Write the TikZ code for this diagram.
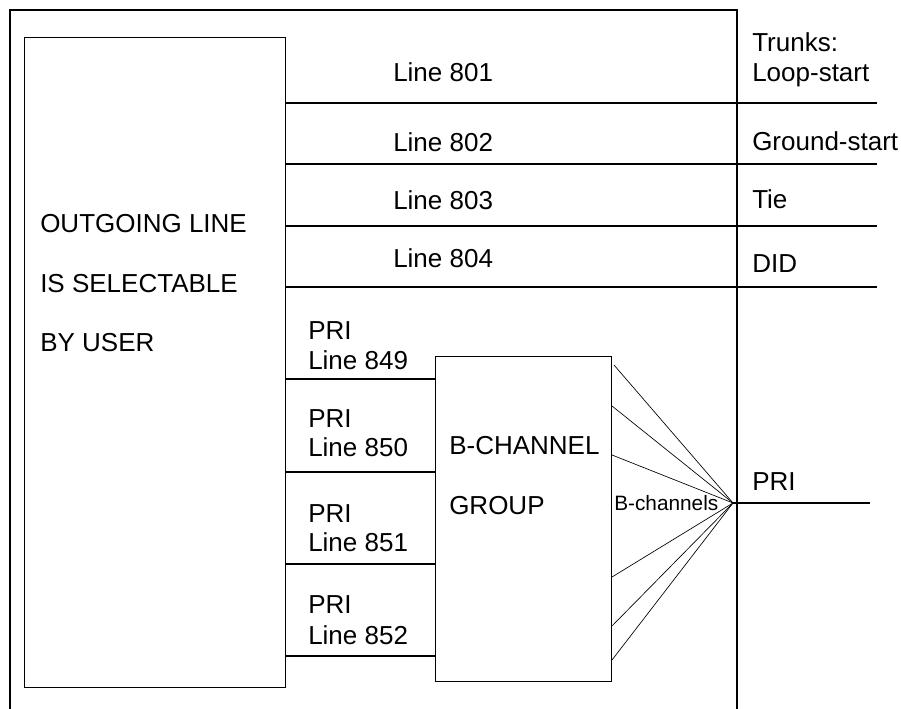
\documentclass[tikz,border=0pt]{standalone}
\usepackage{fontspec}
\setmainfont{Liberation Sans}
\begin{document}
\begin{tikzpicture}[x=0.75pt,y=-0.75pt,
  thick line/.style={line width=1.1pt},
  thin line/.style={line width=0.5pt},
  lbl/.style={anchor=base west,inner sep=0pt,font=\fontsize{19.5}{23}\selectfont},
  small lbl/.style={anchor=base west,inner sep=0pt,font=\fontsize{15.6}{18}\selectfont},
  boxnode/.style={draw,thick line,inner sep=0pt,anchor=north west}]
\useasboundingbox (0,0) rectangle (901,709);
% outer frame (open at bottom)
\coordinate (oBL) at (10,709);
\coordinate (oTL) at (10,10);
\coordinate (oTR) at (737,10);
\coordinate (oBR) at (737,709);
\draw[thick line] (oBL) -- (oTL) -- (oTR) -- (oBR);
% left box
\node[boxnode,minimum width=261*0.75pt,minimum height=650*0.75pt] (user) at (24,37) {};
% B-channel group box
\node[boxnode,minimum width=176*0.75pt,minimum height=325*0.75pt] (bgrp) at (435,356) {};
% trunk lines
\foreach \n/\y in {a/103,b/164,c/226,d/287}{
  \coordinate (s\n) at (user.east |- 0,\y);
  \coordinate (e\n) at (877,\y);
  \draw[thick line] (s\n) -- (e\n);
}
% PRI lines
\foreach \n/\y in {p/379,q/472,r/564,s/656}{
  \coordinate (u\n) at (user.east |- 0,\y);
  \coordinate (g\n) at (bgrp.west |- 0,\y);
  \draw[thick line] (u\n) -- (g\n);
}
% fan of B-channels
\coordinate (hub) at (733,503);
\foreach \y/\x in {365/614,406/612,455/612,577/612,626/612,660/612}{
  \coordinate (f) at (\x,\y);
  \draw[thin line] (f) -- (hub);
}
\coordinate (priend) at (870,503);
\draw[thick line] (hub) -- (priend);
% labels
\node[lbl] (l801) at (393,82) {Line 801};
\node[lbl] (l802) at (393,152) {Line 802};
\node[lbl] (l803) at (393,210) {Line 803};
\node[lbl] (l804) at (393,268) {Line 804};
\node[lbl] (trunks) at (752,52) {Trunks:};
\node[lbl] (loop) at (752,82) {Loop-start};
\node[lbl] (ground) at (752,151) {Ground-start};
\node[lbl] (tie) at (752,209) {Tie};
\node[lbl] (did) at (752,273) {DID};
\node[lbl] (t1) at (40,233) {OUTGOING LINE};
\node[lbl] (t2) at (40,293) {IS SELECTABLE};
\node[lbl] (t3) at (40,352) {BY USER};
\node[lbl] (p1a) at (308,340) {PRI};
\node[lbl] (p1b) at (308,370) {Line 849};
\node[lbl] (p2a) at (308,428) {PRI};
\node[lbl] (p2b) at (308,457) {Line 850};
\node[lbl] (p3a) at (308,523) {PRI};
\node[lbl] (p3b) at (308,552) {Line 851};
\node[lbl] (p4a) at (308,614) {PRI};
\node[lbl] (p4b) at (308,644) {Line 852};
\node[lbl] (bc1) at (449,455) {B-CHANNEL};
\node[lbl] (bc2) at (449,515) {GROUP};
\node[small lbl] (bch) at (614,511) {B-channels};
\node[lbl] (pri) at (752,491) {PRI};
\end{tikzpicture}
\end{document}
